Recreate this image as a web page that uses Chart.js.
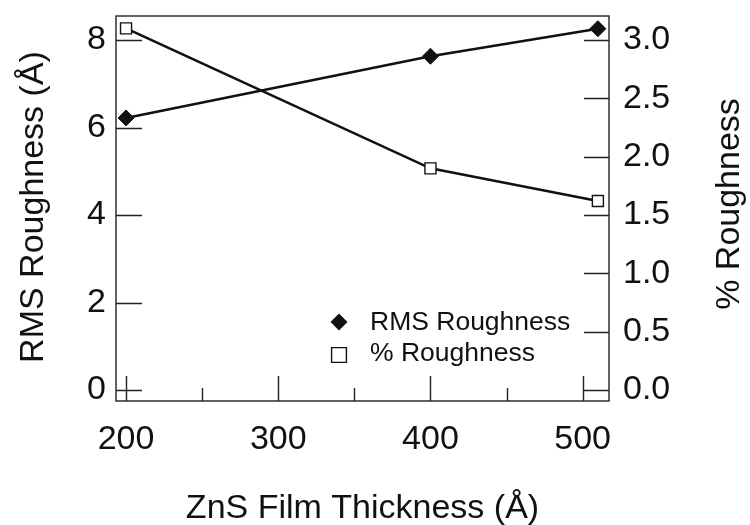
<!DOCTYPE html>
<html>
<head>
<meta charset="utf-8">
<title>ZnS film roughness</title>
<script src="https://cdn.jsdelivr.net/npm/chart.js"></script>
<style>
  html,body{margin:0;padding:0;background:#fff;}
  #wrap{width:750px;height:525px;}
</style>
</head>
<body>
<div id="wrap"><canvas id="chart" width="750" height="525"></canvas></div>
<script>
const THICKNESS=[200,400,510];
const RMS_ROUGHNESS=[6.22,7.63,8.26];
const PCT_ROUGHNESS=[3.10,1.90,1.62];
const SERIES_LABELS=['RMS Roughness','% Roughness'];
const X_TICKS=[200,250,300,350,400,450,500];
const Y_TICKS=[0,2,4,6,8];
const Y1_TICKS=[0,0.5,1,1.5,2,2.5,3];
const X_TITLE='ZnS Film Thickness (Å)';
const Y_TITLE='RMS Roughness (Å)';
const Y1_TITLE='% Roughness';

const INK='#111';
const FONT="'Liberation Sans', Arial, sans-serif";
Chart.defaults.font.family=FONT;
Chart.defaults.color=INK;

function points(ys){
  return THICKNESS.map((x,i)=>({x,y:ys[i]}));
}

function marker(ctx,style,x,y,r){
  ctx.beginPath();
  if(style==='rectRot'){
    ctx.moveTo(x-r,y);ctx.lineTo(x,y-r);ctx.lineTo(x+r,y);ctx.lineTo(x,y+r);
  }else{
    const s=r*Math.SQRT1_2;
    ctx.rect(x-s,y-s,2*s,2*s);
  }
  ctx.closePath();
}

// fixed scale boxes so the plot frame lands in the same place every time
function fixBox(size){
  return s=>{
    if(s.isHorizontal())s.height=size;else s.width=size;
    s.paddingTop=0;s.paddingBottom=0;s.paddingLeft=0;s.paddingRight=0;
  };
}

// frame, inward ticks, axis titles and the in-plot key
const framePlugin={
  id:'frame',
  afterDraw(chart){
    const {ctx,chartArea:a,scales}=chart;
    ctx.save();
    ctx.strokeStyle='#222';
    ctx.lineWidth=1.4;
    ctx.strokeRect(a.left,a.top,a.right-a.left,a.bottom-a.top);
    ctx.beginPath();
    Y_TICKS.forEach(v=>{
      const y=Math.round(scales.y.getPixelForValue(v))+0.5;
      ctx.moveTo(a.left,y);ctx.lineTo(a.left+26,y);
    });
    Y1_TICKS.forEach(v=>{
      const y=Math.round(scales.y1.getPixelForValue(v))+0.5;
      ctx.moveTo(a.right,y);ctx.lineTo(a.right-25,y);
    });
    X_TICKS.forEach(v=>{
      const x=Math.round(scales.x.getPixelForValue(v))+0.5;
      const len=v%100===0?25:13;
      ctx.moveTo(x,a.bottom);ctx.lineTo(x,a.bottom-len);
    });
    ctx.stroke();

    ctx.fillStyle=INK;
    ctx.font='34px '+FONT;
    ctx.textAlign='center';
    ctx.textBaseline='alphabetic';
    ctx.fillText(X_TITLE,(a.left+a.right)/2,518);
    ctx.save();
    ctx.translate(43,207);
    ctx.rotate(-Math.PI/2);
    ctx.fillText(Y_TITLE,0,0);
    ctx.restore();
    ctx.save();
    ctx.translate(739,204);
    ctx.rotate(-Math.PI/2);
    ctx.fillText(Y1_TITLE,0,0);
    ctx.restore();

    // key
    ctx.font='26.5px '+FONT;
    ctx.textAlign='left';
    ctx.textBaseline='middle';
    const rows=[322,353];
    chart.data.datasets.forEach((ds,i)=>{
      const y=rows[i];
      ctx.lineWidth=1.4;
      ctx.strokeStyle=INK;
      ctx.fillStyle=ds.pointBackgroundColor;
      marker(ctx,ds.pointStyle,339,i===1?y+2:y,i===1?10.5:7.5);
      ctx.fill();ctx.stroke();
      ctx.fillStyle=INK;
      ctx.fillText(ds.label,370,y+1);
    });
    ctx.restore();
  }
};

new Chart(document.getElementById('chart'),{
  type:'line',
  data:{
    datasets:[
      {label:SERIES_LABELS[0],data:points(RMS_ROUGHNESS),yAxisID:'y',borderColor:INK,borderWidth:2.6,pointStyle:'rectRot',pointRadius:8,pointBackgroundColor:INK,pointBorderColor:INK,pointBorderWidth:1,tension:0,clip:false},
      {label:SERIES_LABELS[1],data:points(PCT_ROUGHNESS),yAxisID:'y1',borderColor:INK,borderWidth:2.6,pointStyle:'rect',pointRadius:7.8,pointBackgroundColor:'#fff',pointBorderColor:INK,pointBorderWidth:1.4,tension:0,clip:false}
    ]
  },
  options:{
    responsive:false,
    devicePixelRatio:1,
    animation:false,
    layout:{padding:{top:16,left:0,right:0,bottom:0}},
    plugins:{legend:{display:false},tooltip:{enabled:false}},
    scales:{
      x:{
        type:'linear',min:193.4,max:517.3,
        grid:{display:false,drawTicks:false},border:{display:false},
        afterBuildTicks:s=>{s.ticks=X_TICKS.map(v=>({value:v}));},
        afterFit:fixBox(124),
        ticks:{autoSkip:false,maxRotation:0,padding:18,color:INK,font:{size:34},callback:v=>v%100===0?String(v):''}
      },
      y:{
        type:'linear',position:'left',min:-0.25,max:8.55,
        grid:{display:false,drawTicks:false},border:{display:false},
        afterBuildTicks:s=>{s.ticks=Y_TICKS.map(v=>({value:v}));},
        afterFit:fixBox(116),
        ticks:{padding:10,color:INK,font:{size:34}}
      },
      y1:{
        type:'linear',position:'right',min:-0.094,max:3.206,
        grid:{display:false,drawTicks:false},border:{display:false},
        afterBuildTicks:s=>{s.ticks=Y1_TICKS.map(v=>({value:v}));},
        afterFit:fixBox(141),
        ticks:{padding:14,color:INK,font:{size:34},callback:v=>Number(v).toFixed(1)}
      }
    }
  },
  plugins:[framePlugin]
});
</script>
</body>
</html>
